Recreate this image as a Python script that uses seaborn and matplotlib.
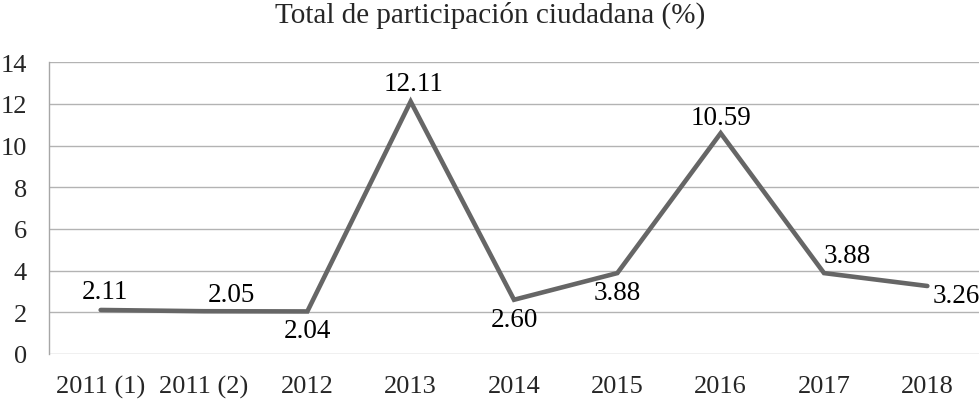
import numpy as np
import pandas as pd
import matplotlib
matplotlib.use('Agg')
import matplotlib.pyplot as plt
import seaborn as sns

# data
periods = ['2011 (1)', '2011 (2)', '2012', '2013', '2014', '2015', '2016', '2017', '2018']
participation = [2.11, 2.05, 2.04, 12.11, 2.60, 3.88, 10.59, 3.88, 3.26]
y_ticks = [0, 2, 4, 6, 8, 10, 12, 14]

# where each value label sits relative to its point (points offset)
label_offsets = [(3, 13), (20, 12), (0, -14), (2, 13), (0, -14), (0, -14), (0, 11), (17, 13), (21, -7)]

sns.set_style('white')
plt.rcParams['font.family'] = ['Liberation Serif', 'DejaVu Serif']

df = pd.DataFrame({'periodo': periods, 'valor': participation})
df['pos'] = np.arange(len(df))

fig = plt.figure(figsize=(9.8, 4.02), dpi=100)
ax = fig.add_axes([0.05, 0.117, 0.949, 0.726])

sns.lineplot(data=df, x='pos', y='valor', color='#666666', linewidth=3.3, ax=ax,
             solid_joinstyle='miter')

for i, v in enumerate(participation):
    dx, dy = label_offsets[i]
    ax.annotate(f'{v:.2f}', (i, v), xytext=(dx, dy), textcoords='offset points',
                ha='center', va='center', fontsize=19.5, color='black')

ax.set_xlim(-0.5, len(periods) - 0.5)
ax.set_ylim(0, 14)
ax.set_yticks(y_ticks)
ax.set_xticks(df['pos'])
ax.set_xticklabels(periods)
ax.tick_params(axis='both', labelsize=19, length=0)
ax.tick_params(axis='x', pad=15)
ax.tick_params(axis='y', pad=16)
ax.yaxis.grid(True, color='#b3b3b3', linewidth=1)
ax.set_xlabel('')
ax.set_ylabel('')

for side in ['top', 'right', 'bottom']:
    ax.spines[side].set_visible(False)
ax.spines['left'].set_color('#a6a6a6')
ax.spines['left'].set_linewidth(1)

fig.suptitle('Total de participación ciudadana (%)', fontsize=21, y=0.995)

fig.savefig('out.png', dpi=100)
